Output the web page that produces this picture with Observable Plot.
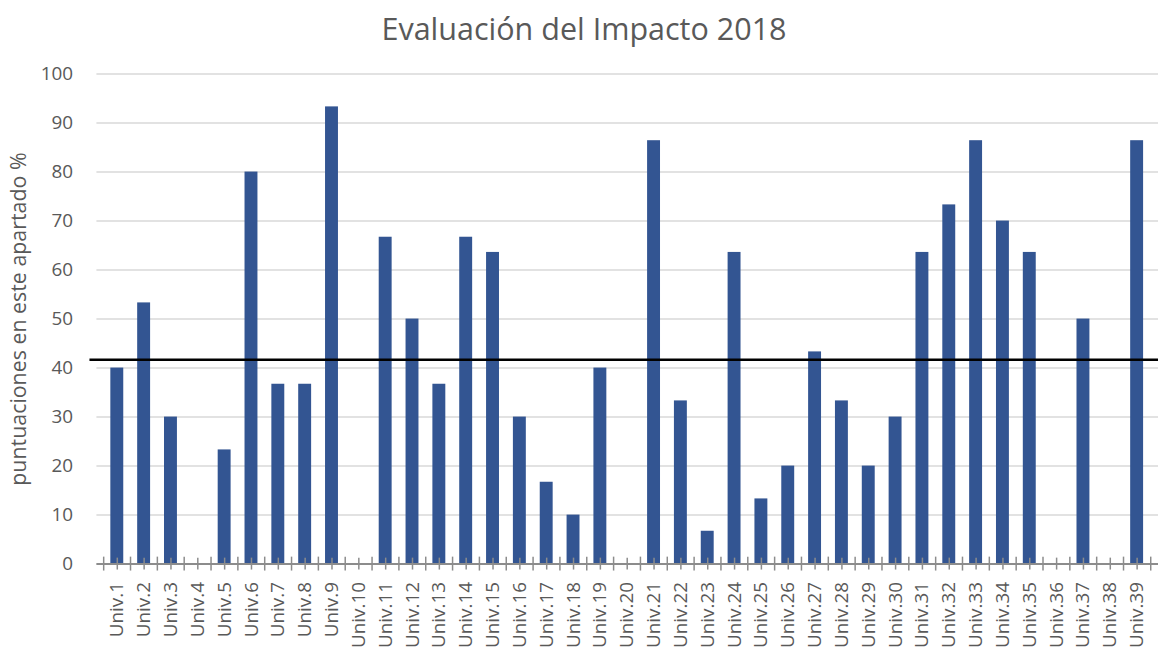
<!DOCTYPE html>
<html>
<head>
<meta charset="utf-8">
<script src="https://cdn.jsdelivr.net/npm/d3@7"></script>
<script src="https://cdn.jsdelivr.net/npm/@observablehq/plot@0.6"></script>
<style>
  html, body { margin: 0; padding: 0; background: #fff; overflow: hidden; width: 1158px; height: 650px; }
  #wrap { position: relative; width: 1158px; height: 650px; overflow: hidden; }
  #title { position: absolute; left: 0; top: 13px; width: 1168px; text-align: center; font-family: "Open Sans", sans-serif; font-size: 30.5px; line-height: 30px; color: #595959; }
  #chart { position: absolute; left: 0; top: 0; }
</style>
</head>
<body>
<div id="wrap">
  <div id="chart"></div>
  <div id="title">Evaluación del Impacto 2018</div>
</div>
<script>
const categories = ["Univ.1","Univ.2","Univ.3","Univ.4","Univ.5","Univ.6","Univ.7","Univ.8","Univ.9","Univ.10",
  "Univ.11","Univ.12","Univ.13","Univ.14","Univ.15","Univ.16","Univ.17","Univ.18","Univ.19","Univ.20",
  "Univ.21","Univ.22","Univ.23","Univ.24","Univ.25","Univ.26","Univ.27","Univ.28","Univ.29","Univ.30",
  "Univ.31","Univ.32","Univ.33","Univ.34","Univ.35","Univ.36","Univ.37","Univ.38","Univ.39"];
const scores = [40, 53.3, 30, 0, 23.3, 80, 36.7, 36.7, 93.3, 0,
  66.7, 50, 36.7, 66.7, 63.6, 30, 16.7, 10, 40, 0,
  86.4, 33.3, 6.7, 63.6, 13.3, 20, 43.3, 33.3, 20, 30,
  63.6, 73.3, 86.4, 70, 63.6, 0, 50, 0, 86.4];
const meanLine = 41.7;
const yTicks = [0, 10, 20, 30, 40, 50, 60, 70, 80, 90, 100];
const yLabel = "puntuaciones en este apartado %";

const data = categories.map((c, i) => ({cat: c, value: scores[i]}));

const W = 1165, H = 650, ML = 97, MR = 0, MT = 74, MB = 83;
const step = (W - ML - MR) / categories.length;
const font = "Open Sans, sans-serif";

const chart = Plot.plot({
  width: W,
  height: H,
  marginLeft: ML,
  marginRight: MR,
  marginTop: MT,
  marginBottom: MB,
  style: {fontFamily: font, fontSize: "19px", color: "#595959", background: "transparent", overflow: "visible"},
  x: {domain: categories, paddingInner: 0.51, paddingOuter: 0.255, align: 0.5},
  y: {domain: [0, 100]},
  marks: [
    Plot.gridY(yTicks, {stroke: "#d9d9d9", strokeOpacity: 1, strokeWidth: 1.5}),
    Plot.axisY(yTicks, {tickSize: 0, tickPadding: 24, fontSize: 19, fill: "#595959", label: null}),
    Plot.text([yLabel], {text: d => d, frameAnchor: "left", textAnchor: "middle", lineAnchor: "middle", rotate: -90, dx: -78, fontSize: 21.5, fill: "#595959"}),
    Plot.barY(data, {x: "cat", y: "value", fill: "#335592"}),
    Plot.ruleY([0], {stroke: "#8c8c8c", strokeWidth: 2}),
    Plot.ruleX(categories, {x: d => d, y1: 0, y2: 0, insetTop: -6, insetBottom: -6, stroke: "#8c8c8c", strokeWidth: 1.5}),
    Plot.ruleX(categories, {x: d => d, y1: 0, y2: 0, insetTop: -7, insetBottom: -7, dx: -step / 2, stroke: "#8c8c8c", strokeWidth: 1.5}),
    Plot.ruleX(categories.slice(-1), {x: d => d, y1: 0, y2: 0, insetTop: -7, insetBottom: -7, dx: step / 2, stroke: "#8c8c8c", strokeWidth: 1.5}),
    Plot.axisX(categories, {tickSize: 0, tickPadding: 18, tickRotate: -90, fontSize: 19, fill: "#595959", label: null}),
    Plot.ruleY([meanLine], {stroke: "#000", strokeWidth: 2.5, insetLeft: -7})
  ]
});
document.getElementById("chart").appendChild(chart);
</script>
</body>
</html>
